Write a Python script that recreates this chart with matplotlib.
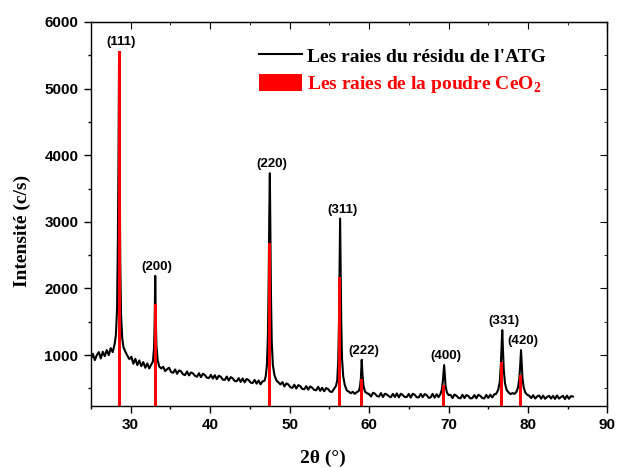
import matplotlib.pyplot as plt
from matplotlib.ticker import MultipleLocator

# CeO2 reference lines: Miller indices, positions (deg) and heights (c/s)
hkl = ['(111)', '(200)', '(220)', '(311)', '(222)', '(400)', '(331)', '(420)']
ref_pos = [28.55, 33.08, 47.48, 56.34, 59.09, 69.42, 76.70, 79.07]
ref_int = [5570, 1770, 2680, 2170, 635, 550, 900, 705]

# diffractogram of the TGA residue, 2theta (deg) / intensity (c/s)
two_theta = [
    25.0, 25.25, 25.5, 25.75, 26.0, 26.25, 26.5, 26.75, 27.0, 27.25, 27.5, 27.75, 28.0,
    28.15, 28.3, 28.4, 28.48, 28.55, 28.62, 28.7, 28.8, 28.95, 29.1,
    29.35, 29.6, 29.85, 30.1, 30.35, 30.6, 30.85, 31.1, 31.35, 31.6, 31.85, 32.1, 32.35, 32.6,
    32.8, 32.95, 33.03, 33.1, 33.17, 33.25, 33.4, 33.6, 33.85,
    34.1, 34.35, 34.6, 34.85, 35.1, 35.35, 35.6, 35.85, 36.1, 36.35, 36.6, 36.85,
    37.1, 37.35, 37.6, 37.85, 38.1, 38.35, 38.6, 38.85, 39.1, 39.35, 39.6, 39.85,
    40.1, 40.35, 40.6, 40.85, 41.1, 41.35, 41.6, 41.85, 42.1, 42.35, 42.6, 42.85,
    43.1, 43.35, 43.6, 43.85, 44.1, 44.35, 44.6, 44.85, 45.1, 45.35, 45.6, 45.85,
    46.1, 46.35, 46.6, 46.85,
    47.0, 47.15, 47.28, 47.38, 47.45, 47.52, 47.58, 47.66, 47.76, 47.9, 48.1, 48.35, 48.6, 48.85,
    49.1, 49.35, 49.6, 49.85, 50.1, 50.35, 50.6, 50.85, 51.1, 51.35, 51.6, 51.85,
    52.1, 52.35, 52.6, 52.85, 53.1, 53.35, 53.6, 53.85, 54.1, 54.35, 54.6, 54.85,
    55.1, 55.35, 55.6, 55.85,
    56.0, 56.12, 56.22, 56.3, 56.36, 56.42, 56.5, 56.6, 56.75, 56.95, 57.2, 57.45, 57.7, 57.95,
    58.2, 58.45, 58.7, 58.85, 58.97, 59.08, 59.18, 59.3, 59.5, 59.75,
    60.0, 60.25, 60.5, 60.75, 61.0, 61.25, 61.5, 61.75, 62.0, 62.25, 62.5, 62.75,
    63.0, 63.25, 63.5, 63.75, 64.0, 64.25, 64.5, 64.75, 65.0, 65.25, 65.5, 65.75,
    66.0, 66.25, 66.5, 66.75, 67.0, 67.25, 67.5, 67.75, 68.0, 68.25, 68.5, 68.75, 69.0,
    69.15, 69.28, 69.38, 69.45, 69.53, 69.63, 69.8, 70.0,
    70.25, 70.5, 70.75, 71.0, 71.25, 71.5, 71.75, 72.0, 72.25, 72.5, 72.75,
    73.0, 73.25, 73.5, 73.75, 74.0, 74.25, 74.5, 74.75, 75.0, 75.25, 75.5, 75.75, 76.0, 76.25,
    76.45, 76.58, 76.68, 76.76, 76.84, 76.95, 77.1, 77.3, 77.55, 77.8, 78.05, 78.3, 78.55, 78.75,
    78.9, 79.02, 79.12, 79.2, 79.3, 79.45, 79.65, 79.9, 80.15,
    80.4, 80.65, 80.9, 81.15, 81.4, 81.65, 81.9, 82.15, 82.4, 82.65, 82.9,
    83.15, 83.4, 83.65, 83.9, 84.15, 84.4, 84.65, 84.9, 85.15, 85.4, 85.65,
]
counts = [
    940, 1020, 925, 1000, 1045, 950, 1050, 985, 1075, 1000, 1105, 1045, 1170,
    1300, 1700, 2700, 4000, 5460, 3900, 2400, 1600, 1250, 1120,
    1050, 990, 940, 975, 870, 945, 850, 920, 835, 895, 810, 875, 800, 860,
    900, 1100, 1500, 2190, 1550, 1150, 930, 830, 800,
    825, 760, 790, 810, 745, 735, 785, 720, 770, 755, 712, 700,
    755, 695, 740, 725, 690, 675, 728, 670, 720, 700, 662, 655,
    705, 648, 698, 640, 690, 675, 632, 628, 678, 618, 670, 650,
    612, 608, 655, 598, 650, 592, 642, 625, 588, 580, 628, 572,
    620, 562, 605, 615,
    680, 850, 1300, 2200, 3100, 3730, 2900, 1900, 1200, 850, 700, 620, 590, 560,
    595, 530, 575, 560, 518, 508, 555, 498, 550, 535, 492, 488,
    535, 482, 530, 510, 478, 472, 525, 464, 510, 458, 505, 490,
    452, 448, 495, 540,
    620, 900, 1500, 2400, 3050, 2400, 1500, 950, 680, 550, 470, 452, 428, 450,
    418, 445, 460, 520, 650, 930, 700, 540, 450, 428,
    415, 378, 435, 420, 385, 378, 430, 372, 420, 408, 382, 368,
    418, 372, 425, 366, 420, 400, 370, 372, 418, 362, 420, 405,
    368, 365, 418, 368, 415, 400, 360, 365, 418, 362, 412, 370, 420,
    480, 600, 760, 850, 700, 530, 440, 400,
    405, 355, 408, 390, 358, 352, 405, 356, 400, 385, 350,
    355, 400, 352, 404, 388, 356, 350, 402, 358, 405, 365, 410, 420, 480,
    600, 850, 1150, 1375, 1100, 780, 580, 480, 440, 415, 430, 418, 450, 520,
    640, 850, 1075, 900, 660, 520, 440, 405, 390,
    355, 398, 348, 380, 395, 346, 392, 344, 372, 390, 348,
    388, 342, 395, 348, 370, 388, 340, 392, 345, 384, 378,
]

plt.rcParams['mathtext.fontset'] = 'custom'
plt.rcParams['mathtext.rm'] = 'Liberation Serif:bold'
plt.rcParams['mathtext.bf'] = 'Liberation Serif:bold'

tick_font = {'family': 'Liberation Sans', 'weight': 'bold', 'size': 11}
label_font = {'family': 'Liberation Serif', 'weight': 'bold', 'size': 14}

fig = plt.figure(figsize=(6.18, 4.68), dpi=100)
ax = fig.add_axes([0.147, 0.133, 0.836, 0.82])

line, = ax.plot(two_theta, counts, color='black', lw=1.5, zorder=2)
bars = ax.bar(ref_pos, ref_int, width=0.38, color='red', zorder=3)

ax.set_xlim(25, 90)
ax.set_ylim(240, 6000)

ax.xaxis.set_major_locator(MultipleLocator(10))
ax.xaxis.set_minor_locator(MultipleLocator(5))
ax.yaxis.set_major_locator(MultipleLocator(1000))
ax.yaxis.set_minor_locator(MultipleLocator(500))
ax.tick_params(which='major', direction='out', length=5, width=1, pad=4)
ax.tick_params(which='minor', direction='out', length=2.5, width=1)
for lab in ax.get_xticklabels() + ax.get_yticklabels():
    lab.set_fontfamily(tick_font['family'])
    lab.set_fontweight(tick_font['weight'])
    lab.set_fontsize(tick_font['size'])

# inward ticks on the top and right frame, Origin style
top = ax.secondary_xaxis('top')
top.xaxis.set_major_locator(MultipleLocator(10))
top.xaxis.set_minor_locator(MultipleLocator(5))
top.tick_params(which='both', direction='in', labeltop=False)
top.tick_params(which='major', length=5)
top.tick_params(which='minor', length=2.5)
right = ax.secondary_yaxis('right')
right.yaxis.set_major_locator(MultipleLocator(1000))
right.yaxis.set_minor_locator(MultipleLocator(500))
right.tick_params(which='both', direction='in', labelright=False)
right.tick_params(which='major', length=5)
right.tick_params(which='minor', length=2.5)

for s in ax.spines.values():
    s.set_linewidth(1.0)

ax.set_xlabel('2θ (°)', fontdict=label_font)
ax.set_ylabel('Intensité (c/s)', fontdict=label_font)
ax.xaxis.set_label_coords(0.449, -0.115)
ax.yaxis.set_label_coords(-0.116, 0.455)

# hkl labels above the highest point of each reflection
for name, pos, h in zip(hkl, ref_pos, ref_int):
    near = [(c, t) for t, c in zip(two_theta, counts) if abs(t - pos) < 0.4]
    top_c, top_t = max(near)
    ax.annotate(name, (top_t, max(top_c, h)), xytext=(1.5, 2), textcoords='offset points',
                ha='center', va='bottom', fontsize=9.5, fontweight='bold',
                family='Liberation Sans')

ax.legend([line, bars], ["Les raies du résidu de l'ATG", r'Les raies de la poudre CeO$_\mathrm{2}$'],
          loc='upper left', bbox_to_anchor=(0.325, 0.935), frameon=False,
          prop={'family': 'Liberation Serif', 'weight': 'bold', 'size': 14},
          labelcolor=['black', 'red'], handlelength=2.2, handleheight=0.95,
          handletextpad=0.3, borderpad=0, borderaxespad=0, labelspacing=0.4)

fig.savefig('out.png', dpi=100)
